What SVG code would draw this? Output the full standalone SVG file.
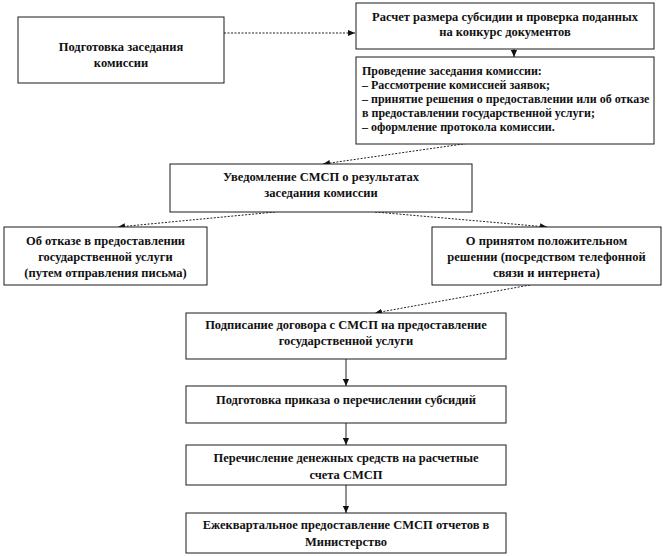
<svg xmlns="http://www.w3.org/2000/svg" width="663" height="556" viewBox="0 0 663 556">
<style>
.box{fill:#fff;stroke:#1a1a1a;stroke-width:1}
text{font-family:"Liberation Serif","DejaVu Serif",serif;font-weight:bold;fill:#111}
.t{font-size:12.5px;text-anchor:middle}
.tl{font-size:12px}
.c{fill:none;stroke:#222;stroke-width:1}
.d{stroke-dasharray:2,1.5}
</style>
<defs>
<marker id="ah" viewBox="0 0 8 8" refX="8" refY="4" markerWidth="7" markerHeight="7" markerUnits="userSpaceOnUse" orient="auto">
<path d="M0,0.5 L8,4 L0,7.5 Z" fill="#111"/>
</marker>
</defs>
<rect width="663" height="556" fill="#fff"/>
<g id="connectors">
<line class="c d" x1="224" y1="33" x2="355" y2="33" marker-end="url(#ah)"/>
<line class="c" x1="514" y1="49" x2="514" y2="57" marker-end="url(#ah)"/>
<line class="c d" x1="470" y1="143" x2="323" y2="164" marker-end="url(#ah)"/>
<line class="c d" x1="275" y1="212" x2="118" y2="227" marker-end="url(#ah)"/>
<line class="c d" x1="375" y1="212" x2="547" y2="227" marker-end="url(#ah)"/>
<line class="c d" x1="530" y1="285" x2="375" y2="313" marker-end="url(#ah)"/>
<line class="c" x1="346" y1="359" x2="346" y2="386" marker-end="url(#ah)"/>
<line class="c" x1="346" y1="423" x2="346" y2="445" marker-end="url(#ah)"/>
<line class="c" x1="346" y1="485" x2="346" y2="513" marker-end="url(#ah)"/>
</g>
<g id="n1">
<rect class="box" x="18" y="17" width="206" height="66"/>
<text class="t" x="121" y="51" font-family="Liberation Serif, serif">Подготовка  заседания</text>
<text class="t" x="121" y="67" font-family="Liberation Serif, serif">комиссии</text>
</g>
<g id="n2">
<rect class="box" x="356" y="3" width="298" height="46"/>
<text class="t" x="505" y="21">Расчет размера субсидии и проверка  поданных</text>
<text class="t" x="505" y="36">на конкурс документов</text>
</g>
<g id="n3">
<rect class="box" x="356" y="57" width="298" height="87"/>
<text class="tl" x="362" y="75">Проведение заседания комиссии:</text>
<text class="tl" x="362" y="89">– Рассмотрение комиссией  заявок;</text>
<text class="tl" x="362" y="103">–  принятие решения о предоставлении  или об отказе</text>
<text class="tl" x="362" y="117">в предоставлении  государственной услуги;</text>
<text class="tl" x="362" y="131">–  оформление протокола комиссии.</text>
</g>
<g id="n4">
<rect class="box" x="170" y="164" width="302" height="48"/>
<text class="t" x="321" y="181">Уведомление  СМСП  о результатах</text>
<text class="t" x="321" y="197">заседания комиссии</text>
</g>
<g id="n5">
<rect class="box" x="4" y="227" width="203" height="58"/>
<text class="t" x="105.5" y="245">Об отказе в предоставлении</text>
<text class="t" x="105.5" y="261">государственной  услуги</text>
<text class="t" x="105.5" y="277">(путем отправления письма)</text>
</g>
<g id="n6">
<rect class="box" x="432" y="227" width="229" height="58"/>
<text class="t" x="546.5" y="245">О принятом положительном</text>
<text class="t" x="546.5" y="261">решении  (посредством телефонной</text>
<text class="t" x="546.5" y="277">связи и интернета)</text>
</g>
<g id="n7">
<rect class="box" x="186" y="313" width="320" height="46"/>
<text class="t" x="346" y="329">Подписание  договора с СМСП  на предоставление</text>
<text class="t" x="346" y="345">государственной  услуги</text>
</g>
<g id="n8">
<rect class="box" x="186" y="386" width="320" height="37"/>
<text class="t" x="346" y="404">Подготовка  приказа о перечислении субсидий</text>
</g>
<g id="n9">
<rect class="box" x="186" y="445" width="320" height="40"/>
<text class="t" x="346" y="462">Перечисление денежных  средств  на расчетные</text>
<text class="t" x="346" y="479">счета СМСП</text>
</g>
<g id="n10">
<rect class="box" x="186" y="513" width="320" height="40"/>
<text class="t" x="346" y="529">Ежеквартальное  предоставление  СМСП  отчетов в</text>
<text class="t" x="346" y="546">Министерство</text>
</g>
</svg>
